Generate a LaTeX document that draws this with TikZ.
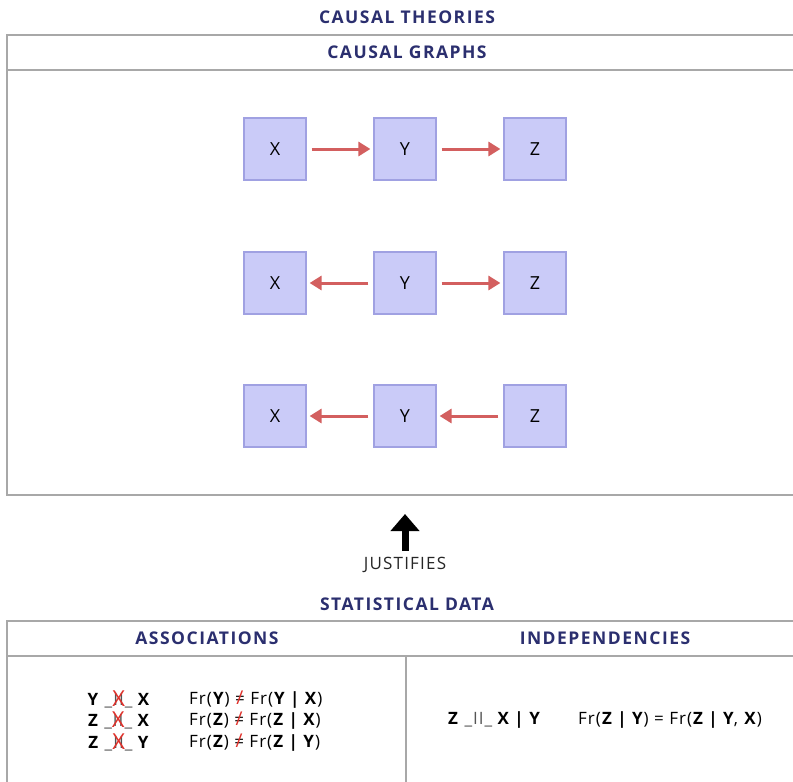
\documentclass[tikz,border=0pt]{standalone}
\usepackage{fontspec}
\setmainfont{Open Sans}[LetterSpace=6]
\newfontfamily\headfont{Open Sans}[LetterSpace=8.5]
\newfontfamily\labelfont{Open Sans}[LetterSpace=7]
\newfontfamily\varfont{Open Sans}
\newfontfamily\crossfont{Open Sans Light}
\usetikzlibrary{arrows.meta}
\definecolor{navy}{HTML}{2B2F6F}
\definecolor{boxfill}{HTML}{CACBF8}
\definecolor{boxline}{HTML}{A0A1E2}
\definecolor{linkred}{HTML}{D35F5F}
\definecolor{frameline}{HTML}{A8A8A8}
\definecolor{crossred}{HTML}{E0302A}
\definecolor{symgray}{HTML}{555555}

% negated independence and struck-out equality
\newcommand\notindep{\ooalign{\hfil\textcolor{symgray}{\_II\_}\hfil\cr\hfil\raisebox{-1pt}{\textcolor{crossred}{\fontsize{22}{22}\selectfont X}}\hfil\cr}}
\newcommand\noteq{\ooalign{\hfil=\hfil\cr\hfil\textcolor{crossred}{\fontsize{19}{19}\selectfont /}\hfil\cr}}
\newcommand\indep{\textcolor{symgray}{\_II\_}}

\begin{document}
\begin{tikzpicture}[x=1pt,y=-1pt,
  head/.style={text=navy,font=\headfont\fontsize{17.5}{20}\selectfont\bfseries,inner sep=0pt},
  rule/.style={draw=frameline,line width=1.8pt},
  var/.style={draw=boxline,fill=boxfill,line width=1.2pt,minimum size=62pt,inner sep=0pt,
    font=\varfont\fontsize{18}{20}\selectfont},
  link/.style={draw=linkred,line width=3pt,-{Triangle[length=12pt,width=14pt]},
    shorten <=5pt,shorten >=3pt},
  stat/.style={font=\fontsize{17}{19}\selectfont,inner sep=0pt}]
\useasboundingbox[fill=white] (0,0) rectangle (793,782);

% upper panel: causal theories
\node[head] (theories) at (407,17) {CAUSAL THEORIES};
\draw[rule] (793,35) -- (7,35) -- (7,495) -- (793,495);
\draw[rule] (7,70) -- (793,70);
\node[head] (graphs) at (407,52) {CAUSAL GRAPHS};

% chain X -> Y -> Z
\node[var] (x1) at (275,149) {X};
\node[var] (y1) at (405,149) {Y};
\node[var] (z1) at (535,149) {Z};
\draw[link] (x1) -- (y1);
\draw[link] (y1) -- (z1);

% fork X <- Y -> Z
\node[var] (x2) at (275,283) {X};
\node[var] (y2) at (405,283) {Y};
\node[var] (z2) at (535,283) {Z};
\draw[link] (y2) -- (x2);
\draw[link] (y2) -- (z2);

% chain X <- Y <- Z
\node[var] (x3) at (275,416) {X};
\node[var] (y3) at (405,416) {Y};
\node[var] (z3) at (535,416) {Z};
\draw[link] (y3) -- (x3);
\draw[link] (z3) -- (y3);

% justification arrow
\node[font=\labelfont\fontsize{17}{19}\selectfont,text=black!85,inner sep=0pt] (just) at (405,565) {JUSTIFIES};
\coordinate (tip) at (405,514);
\draw[line width=7pt,-{Triangle[length=17pt,width=28pt]}] ([yshift=6pt]just.north) -- (tip);

% lower panel: statistical data
\node[head] (data) at (407,604) {STATISTICAL DATA};
\draw[rule] (793,621) -- (7,621) -- (7,782);
\draw[rule] (7,656) -- (793,656);
\draw[rule] (406,656) -- (406,782);
\node[head] (assoc) at (207,638) {ASSOCIATIONS};
\node[head] (indep) at (605,638) {INDEPENDENCIES};

% associations
\node[stat] (a1) at (119,700) {\textbf{Y} \notindep{} \textbf{X}};
\node[stat] (a2) at (119,721) {\textbf{Z} \notindep{} \textbf{X}};
\node[stat] (a3) at (119,743) {\textbf{Z} \notindep{} \textbf{Y}};
\node[stat,anchor=west] (f1) at (189,700) {Fr(\textbf{Y}) \noteq{} Fr(\textbf{Y | X})};
\node[stat,anchor=west] (f2) at (189,721) {Fr(\textbf{Z}) \noteq{} Fr(\textbf{Z | X})};
\node[stat,anchor=west] (f3) at (189,743) {Fr(\textbf{Z}) \noteq{} Fr(\textbf{Z | Y})};

% independencies
\node[stat,anchor=west] (i1) at (448,720) {\textbf{Z} \indep{} \textbf{X | Y}};
\node[stat,anchor=west] (g1) at (578,720) {Fr(\textbf{Z | Y}) = Fr(\textbf{Z | Y}, \textbf{X})};
\end{tikzpicture}
\end{document}
